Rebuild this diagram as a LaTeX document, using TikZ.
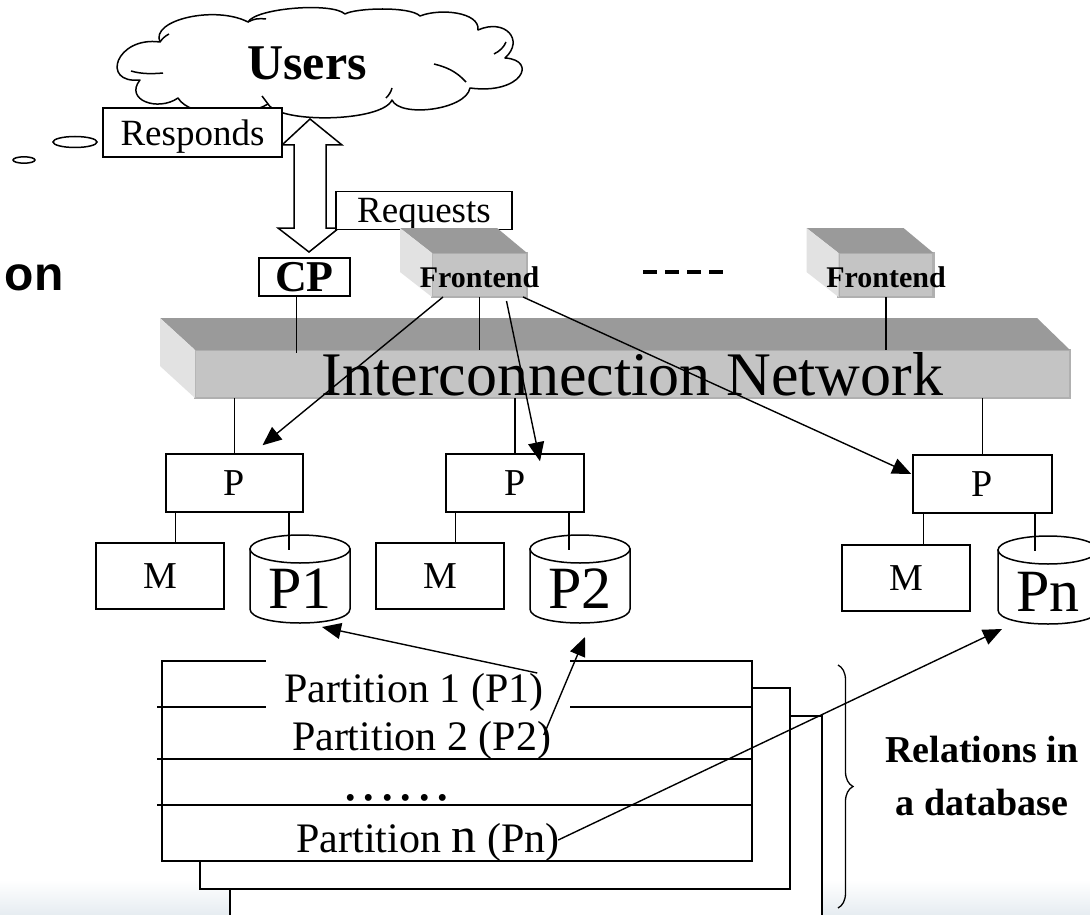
\documentclass[tikz,border=0pt]{standalone}
\usepackage{fontspec}
\setmainfont{Liberation Serif}
\newfontfamily\labelsans{Liberation Sans}
\usetikzlibrary{calc,arrows.meta,decorations.pathreplacing}

\definecolor{facetop}{HTML}{9A9A9A}
\definecolor{facefront}{HTML}{C4C4C4}
\definecolor{faceside}{HTML}{E2E2E2}
\definecolor{faceedge}{HTML}{B0B0B0}
\definecolor{floorshade}{HTML}{E6ECF1}

\newcommand\fsz[1]{\fontsize{#1}{#1}\selectfont}
% cylinder outline around an invisible placeholder node
\newcommand\drawdisk[1]{%
  \draw[fill=white] ($(#1.north west)+(0,14)$) -- ($(#1.south west)+(0,-14)$)
    .. controls ($(#1.south west)+(0,4.67)$) and ($(#1.south east)+(0,4.67)$) .. ($(#1.south east)+(0,-14)$)
    -- ($(#1.north east)+(0,14)$) -- cycle;
  \draw[fill=white] ($(#1.north)+(0,14)$) ellipse [x radius=50, y radius=14];
}

\begin{document}
\begin{tikzpicture}[x=1pt,y=-1pt,line width=1.5pt,
  plain/.style={draw,fill=white,inner sep=0pt},
  tagbox/.style={plain,font=\fsz{37},text depth=0pt},
  unit/.style={plain,minimum width=138,minimum height=58,font=\fsz{38},text depth=0pt},
  mem/.style={plain,minimum width=128,minimum height=66,font=\fsz{38},text depth=0pt},
  diskspot/.style={inner sep=0pt,outer sep=0pt,minimum width=100,minimum height=88},
  disklabel/.style={inner sep=0pt,anchor=base,font=\fsz{60}},
  face/.style={fill=facefront,draw=faceedge,line width=2.5pt,inner sep=0pt,outer sep=0pt},
  fetext/.style={inner sep=0pt,anchor=base,font=\bfseries\fsz{30}},
  parttext/.style={inner sep=0pt,anchor=base,font=\fsz{42}},
  sheet/.style={draw,fill=white},
  flow/.style={line width=1.4pt,-{Triangle[length=19pt,width=16pt]}},
]
\useasboundingbox (0,0) rectangle (1090,915);
\fill[white] (0,0) rectangle (1090,915);
\shade[top color=white, bottom color=floorshade] (0,880) rectangle (1090,915);

% users cloud
\draw[fill=white, line join=round] (140,80)
  .. controls (100,84) and (116,36) .. (160,42)
  .. controls (150,20) and (215,5) .. (248,22)
  .. controls (256,8) and (332,2) .. (345,14)
  .. controls (355,8) and (410,6) .. (420,16)
  .. controls (440,8) and (480,12) .. (478,30)
  .. controls (505,18) and (525,40) .. (505,58)
  .. controls (538,60) and (522,95) .. (470,88)
  .. controls (466,110) and (400,118) .. (392,100)
  .. controls (382,122) and (280,124) .. (268,104)
  .. controls (245,118) and (190,118) .. (178,98)
  .. controls (158,112) and (124,100) .. (140,80) -- cycle;
\draw (131,71) .. controls (141,74) and (152,74) .. (163,73);
\draw (434,64) .. controls (446,67) and (456,71) .. (466,82);
\draw (494,54) .. controls (500,51) and (504,47) .. (506,42);
\draw (386,98) .. controls (389,95) and (391,92) .. (392,88);
\draw (160,42) .. controls (162,39) and (165,36) .. (169,34);
\draw (248,22) .. controls (253,19) and (259,18) .. (266,19);
\draw (262,96) .. controls (264,99) and (266,101) .. (268,104);
\node[inner sep=0pt, anchor=base, font=\bfseries\fsz{50}] (users) at (307,80) {Users};

% request/response channel
\draw (75,142) ellipse [x radius=22, y radius=5.5];
\draw (24,160) ellipse [x radius=11, y radius=3.2];
\draw[fill=white] (310,119) -- (342,145) -- (326,145) -- (326,228) -- (339,228)
  -- (309,252) -- (278,228) -- (294,228) -- (294,145) -- (282,145) -- cycle;
\node[tagbox, minimum width=179, minimum height=49] (resp) at (192.5,132.5) {Responds};
\node[tagbox, minimum width=176, minimum height=38] (req) at (424,210.5) {Requests};
\node[plain, minimum width=91, minimum height=38, font=\bfseries\fsz{44}, text depth=0pt] (cp) at (304.5,277) {CP};
\node[inner sep=0pt, anchor=base west, font=\labelsans\bfseries\fsz{48}] (side) at (4,290) {on};

% front-end machines
\node[face, minimum width=95, minimum height=44] (fe1) at (479.5,275) {};
\fill[facetop] (fe1.north west) -- ++(-32,-25) -- ($(fe1.north east)+(-30,-25)$) -- (fe1.north east) -- cycle;
\fill[faceside] (fe1.north west) -- ++(-32,-25) -- ++(0,44) -- (fe1.south west) -- cycle;
\node[fetext] at ($(fe1.south)+(0,-10)$) {Frontend};

\node[face, minimum width=95, minimum height=44] (fe2) at (886,275) {};
\fill[facetop] (fe2.north west) -- ++(-32,-25) -- ($(fe2.north east)+(-30,-25)$) -- (fe2.north east) -- cycle;
\fill[faceside] (fe2.north west) -- ++(-32,-25) -- ++(0,44) -- (fe2.south west) -- cycle;
\node[fetext] at ($(fe2.south)+(0,-10)$) {Frontend};

\draw[line width=3.5pt, dash pattern=on 14pt off 8pt] (643,272) -- (727,272);

% interconnection network
\node[face, minimum width=875, minimum height=48, font=\fsz{62}] (bar) at (632.5,374) {Interconnection Network};
\fill[facetop] (bar.north west) -- ++(-35,-32) -- ($(bar.north east)+(-33,-32)$) -- (bar.north east) -- cycle;
\fill[faceside] (bar.north west) -- ++(-35,-32) -- ++(0,48) -- (bar.south west) -- cycle;

\draw ($(cp.south)+(-8,0)$) -- ++(0,56);
\draw (fe1.south) -- (fe1.south |- bar.north);
\draw (fe2.south) -- (fe2.south |- bar.north);

% processing nodes
\node[unit, minimum width=137] (p1) at (234.5,483) {P};
\node[unit] (p2) at (515,483) {P};
\node[unit, minimum width=139] (p3) at (982.5,484) {P};
\foreach \p in {p1,p2,p3} \draw (\p.north) -- (\p.north |- bar.south);

\node[mem] (m1) at (160,576) {M};
\node[mem] (m2) at (440,576) {M};
\node[mem] (m3) at (906,578) {M};
\draw ($(p1.south west)+(10,0)$) -- ++(0,31);
\draw ($(p2.south west)+(10,0)$) -- ++(0,31);
\draw ($(p3.south west)+(11,0)$) -- ++(0,32);

\node[diskspot] (d1) at (300,579) {};
\node[diskspot] (d2) at (580,579) {};
\node[diskspot] (d3) at (1048,580) {};
\drawdisk{d1}\drawdisk{d2}\drawdisk{d3}
\node[disklabel] at ($(d1.south)+(0,-15)$) {P1};
\node[disklabel] at ($(d2.south)+(0,-15)$) {P2};
\node[disklabel] at ($(d3.south)+(0,-13)$) {Pn};
\draw ($(p1.south east)+(-15,0)$) -- ++(0,37);
\draw ($(p2.south east)+(-16,0)$) -- ++(0,37);
\draw ($(p3.south east)+(-18,0)$) -- ++(0,37);

% partitioned relations
\draw[sheet] (230,716) rectangle (822,960);
\draw[sheet] (200,688) rectangle (790,889);
\draw[sheet] (162,661) rectangle (752,861);
\draw (157,707) -- (752,707);
\draw (157,759) -- (752,759);
\draw (157,805) -- (752,805);
\fill[white] (266,654) rectangle (570,713);
\node[parttext] (part1) at (414,702) {Partition 1 (P1)};
\node[parttext] (part2) at (421.5,750) {Partition 2 (P2)};
\node[parttext, font=\fsz{58}] (dots) at (397,800) {.\hspace{4pt}.\hspace{4pt}.\hspace{4pt}.\hspace{4pt}.\hspace{4pt}.};
\node[parttext] (partn) at (428,852) {Partition {\fsz{50}n} (Pn)};

\draw[line width=1.3pt, decorate, decoration={brace, amplitude=15pt}] (838,665) -- (838,908);
\node[inner sep=0pt, anchor=base, align=center, font=\bfseries\fontsize{38}{53}\selectfont] (rel) at (982,815) {Relations in\\a database};

% data placement and query routing
\draw[flow] ($(fe1.south west)+(11,0)$) -- ($(p1.north)+(28,-8)$);
\draw[flow] ($(fe1.south)+(27,4)$) -- ($(p2.north)+(25,8)$);
\draw[flow] ($(fe1.south east)+(-4,0)$) -- ($(p3.west)+(-1,-10)$);
\draw[flow] ($(part1.base east)+(-7,-29)$) -- ($(d1.south)+(22,4)$);
\draw[flow] ($(part2.base east)+(-8,-15)$) -- ($(d2.south)+(5,14)$);
\draw[flow] ($(partn.base east)+(-2,-12)$) -- ($(d3.south)+(-46,5)$);
\end{tikzpicture}
\end{document}
